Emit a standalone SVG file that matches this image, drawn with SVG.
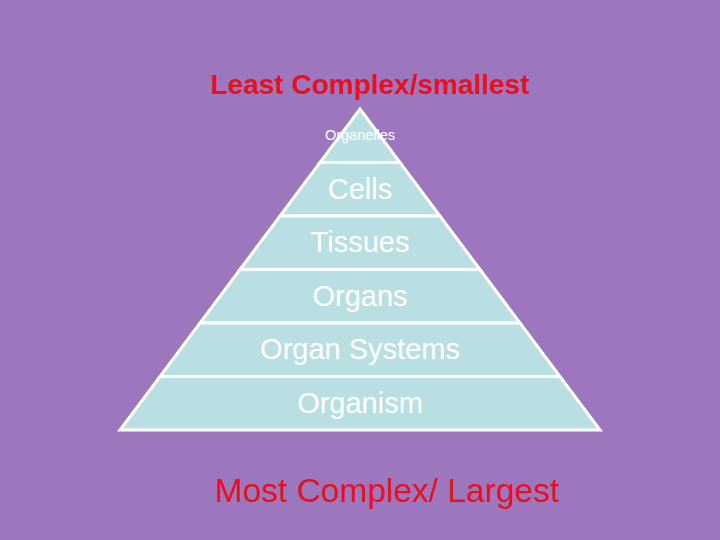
<svg xmlns="http://www.w3.org/2000/svg" width="720" height="540" viewBox="0 0 720 540">
<style>
.band{fill:#b9dfe2;stroke:#ffffff;stroke-width:3;stroke-linejoin:miter}
.lbl{font-family:"Liberation Sans",Arial,sans-serif;fill:#ffffff;text-anchor:middle;font-size:29px}
.sm{font-size:14.5px}
.ttl{font-family:"Liberation Sans",Arial,sans-serif;fill:#e8101e;text-anchor:middle}
</style>
<rect width="720" height="540" fill="#9c77be"/>
<text class="ttl" x="370" y="94" font-size="28" font-weight="bold">Least Complex/smallest</text>
<g id="organelles"><polygon class="band" points="360,109 400,162.5 320,162.5"/><text class="lbl sm" x="360" y="140">Organelles</text></g>
<g id="cells"><polygon class="band" points="320,162.5 400,162.5 440,216 280,216"/><text class="lbl" x="360" y="199">Cells</text></g>
<g id="tissues"><polygon class="band" points="280,216 440,216 480,269.5 240,269.5"/><text class="lbl" x="360" y="252">Tissues</text></g>
<g id="organs"><polygon class="band" points="240,269.5 480,269.5 520,323 200,323"/><text class="lbl" x="360" y="306">Organs</text></g>
<g id="organ-systems"><polygon class="band" points="200,323 520,323 560,376.5 160,376.5"/><text class="lbl" x="360" y="359">Organ Systems</text></g>
<g id="organism"><polygon class="band" points="160,376.5 560,376.5 600,430 120,430"/><text class="lbl" x="360" y="413">Organism</text></g>
<g id="connectors"></g>
<text class="ttl" x="387" y="502" font-size="33.5">Most Complex/ Largest</text>
</svg>
